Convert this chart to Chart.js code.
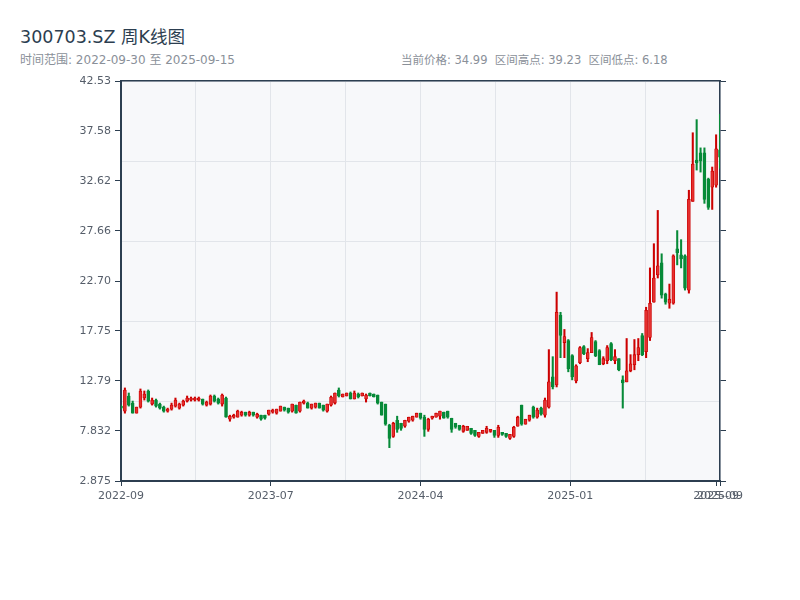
<!DOCTYPE html>
<html>
<head>
<meta charset="utf-8">
<script src="https://cdn.jsdelivr.net/npm/chart.js@4.4.1/dist/chart.umd.min.js"></script>
<style>
  body { margin: 0; background: #fff; }
  #wrap { position: relative; width: 800px; height: 600px; font-family: 'DejaVu Sans', 'Noto Sans CJK SC', sans-serif; }
  #title { position: absolute; left: 20px; top: 23px; font-size: 17.5px; color: #2c3e50; }
  .sub { position: absolute; top: 50px; font-size: 12px; color: #8a9099; white-space: pre; }
  canvas { position: absolute; left: 0; top: 0; }
</style>
</head>
<body>
<div id="wrap">
  <div id="title"></div>
  <div class="sub" id="range" style="left:20px"></div>
  <div class="sub" id="stats" style="left:401px; font-size:11.5px; top:50.5px"></div>
  <canvas id="myChart" width="800" height="600"></canvas>
</div>
<script>
// weekly K-line data
const opens = [
  10.3, 9.8, 11.3, 10.6, 9.6, 10.2, 11.1, 11.8, 10.5, 10.9,
  10.5, 10.2, 9.8, 10.0, 10.3, 10.1, 10.4, 10.8, 10.9, 10.9,
  10.9, 11.0, 10.4, 10.5, 11.3, 11.0, 10.5, 11.1, 9.0, 9.2,
  9.2, 9.4, 9.7, 9.4, 9.7, 9.2, 9.4, 9.4, 9.5, 9.7,
  9.6, 9.8, 10.2, 10.1, 9.8, 10.4, 9.8, 10.6, 10.6, 10.1,
  10.2, 10.6, 10.4, 9.8, 10.4, 10.6, 11.9, 11.2, 11.3, 11.6,
  11.0, 11.5, 11.3, 11.0, 11.6, 11.5, 11.4, 10.7, 10.5, 8.4,
  7.3, 8.9, 8.6, 8.3, 8.8, 8.9, 9.2, 9.6, 9.2, 8.0,
  9.1, 9.2, 9.3, 9.7, 9.8, 9.1, 8.6, 8.4, 7.8, 7.9,
  8.1, 7.9, 7.3, 7.6, 7.7, 7.8, 7.9, 7.4, 7.7, 7.6,
  7.1, 7.3, 8.3, 10.4, 8.5, 8.9, 10.2, 9.2, 10.1, 9.4,
  10.2, 13.2, 12.4, 19.3, 16.6, 16.8, 15.3, 12.8, 14.6, 16.2,
  15.0, 15.6, 16.7, 15.8, 14.5, 14.8, 16.5, 14.8, 15.0, 12.9,
  12.7, 13.8, 14.4, 15.4, 17.3, 15.7, 17.1, 20.6, 23.3, 24.5,
  21.4, 20.5, 20.5, 25.9, 25.3, 25.2, 21.8, 30.6, 34.7, 35.4,
  35.4, 32.8, 32.0, 32.2, 35.7
];
const closes = [
  10.1, 11.9, 10.4, 9.6, 10.2, 11.8, 11.5, 10.8, 10.9, 10.3,
  10.1, 9.8, 10.0, 10.4, 10.9, 10.5, 10.8, 11.1, 11.1, 11.1,
  11.1, 10.5, 10.7, 11.3, 10.8, 10.6, 11.4, 9.2, 9.3, 9.4,
  9.8, 9.7, 9.4, 9.7, 9.4, 9.5, 9.0, 9.1, 9.9, 9.9,
  10.0, 10.3, 9.9, 9.7, 10.5, 9.6, 10.7, 10.8, 10.1, 10.5,
  10.6, 10.1, 9.9, 10.5, 11.2, 11.6, 11.3, 11.5, 11.6, 11.0,
  11.6, 11.2, 11.6, 11.4, 11.3, 11.2, 10.6, 9.4, 8.5, 7.1,
  8.6, 8.0, 8.1, 8.9, 9.2, 9.3, 9.6, 9.1, 8.0, 9.0,
  9.3, 9.6, 9.8, 9.1, 9.2, 8.0, 8.2, 8.0, 8.3, 8.3,
  7.6, 7.4, 7.7, 7.9, 8.1, 8.0, 7.4, 8.2, 7.5, 7.3,
  7.5, 8.2, 9.2, 8.5, 9.0, 9.4, 9.2, 9.9, 9.5, 10.9,
  12.7, 12.2, 19.6, 17.3, 17.2, 14.0, 13.2, 14.3, 16.1, 15.5,
  15.6, 17.1, 15.3, 14.4, 15.0, 16.1, 14.9, 15.2, 13.9, 12.6,
  13.8, 14.5, 15.4, 16.1, 15.4, 19.8, 20.5, 23.0, 24.2, 21.3,
  20.6, 20.9, 25.2, 25.5, 24.9, 22.0, 30.8, 34.3, 34.4, 34.6,
  30.8, 30.0, 33.6, 35.8, 34.99
];
const highs = [
  10.4, 12.1, 11.6, 10.8, 10.2, 12.0, 11.8, 11.9, 11.1, 11.0,
  10.6, 10.3, 10.1, 10.6, 11.1, 10.6, 10.9, 11.3, 11.2, 11.2,
  11.2, 11.0, 10.8, 11.4, 11.4, 11.1, 11.5, 11.2, 9.4, 9.5,
  9.9, 9.8, 9.7, 9.8, 9.7, 9.6, 9.4, 9.4, 9.9, 10.0,
  10.0, 10.3, 10.2, 10.1, 10.5, 10.4, 10.7, 10.9, 10.7, 10.5,
  10.6, 10.6, 10.4, 10.5, 11.3, 11.6, 12.1, 11.5, 11.6, 11.7,
  11.8, 11.6, 11.6, 11.5, 11.6, 11.5, 11.4, 10.7, 10.5, 8.5,
  8.7, 9.3, 8.6, 8.9, 9.2, 9.3, 9.6, 9.6, 9.4, 9.1,
  9.3, 9.6, 9.8, 9.7, 9.8, 9.1, 8.6, 8.4, 8.4, 8.3,
  8.1, 7.9, 7.7, 7.9, 8.3, 8.0, 7.9, 8.4, 7.7, 7.6,
  7.5, 8.3, 9.3, 10.4, 9.0, 9.4, 10.3, 10.1, 10.2, 11.1,
  15.9, 15.2, 21.6, 19.6, 17.9, 16.9, 15.4, 14.4, 16.2, 16.3,
  16.0, 17.6, 16.8, 15.9, 15.2, 16.3, 16.6, 15.9, 15.0, 13.3,
  17.0, 15.4, 16.9, 17.0, 17.5, 20.1, 24.0, 26.4, 29.7, 25.4,
  21.5, 22.4, 25.3, 27.7, 26.8, 25.3, 31.7, 37.4, 38.7, 35.9,
  35.9, 32.9, 34.0, 37.2, 39.23
];
const lows = [
  10.0, 9.6, 10.3, 9.6, 9.6, 10.1, 10.9, 10.7, 10.4, 10.2,
  10.0, 9.7, 9.7, 9.9, 10.2, 10.0, 10.3, 10.7, 10.8, 10.8,
  10.8, 10.4, 10.3, 10.4, 10.7, 10.5, 10.3, 9.2, 8.8, 9.1,
  9.2, 9.3, 9.3, 9.3, 9.3, 9.1, 8.9, 9.0, 9.4, 9.6,
  9.5, 9.8, 9.8, 9.6, 9.7, 9.6, 9.7, 10.5, 10.1, 10.0,
  10.1, 10.1, 9.8, 9.7, 10.3, 10.5, 11.2, 11.2, 11.3, 11.0,
  11.0, 11.1, 11.3, 10.7, 11.3, 11.2, 10.5, 9.4, 8.4, 6.18,
  7.2, 7.7, 7.9, 8.2, 8.7, 8.8, 9.2, 9.0, 7.3, 7.8,
  9.0, 9.2, 9.0, 9.1, 9.1, 7.7, 8.1, 7.9, 7.7, 7.9,
  7.5, 7.3, 7.2, 7.6, 7.6, 7.7, 7.2, 7.2, 7.4, 7.2,
  7.0, 7.2, 8.3, 8.4, 8.5, 8.8, 9.1, 9.1, 9.4, 9.2,
  10.1, 12.0, 12.2, 15.1, 15.1, 13.7, 12.9, 12.6, 14.5, 15.4,
  14.7, 15.6, 15.2, 14.4, 14.4, 14.5, 14.8, 14.5, 13.8, 10.1,
  12.7, 13.7, 13.9, 14.8, 15.3, 15.1, 16.8, 20.6, 23.0, 21.0,
  20.4, 20.0, 20.4, 24.3, 24.0, 21.8, 21.5, 30.6, 33.7, 33.5,
  30.4, 29.8, 29.8, 32.0, 33.9
];

// axis ticks
const yTickValues = [2.875, 7.832, 12.79, 17.75, 22.70, 27.66, 32.62, 37.58, 42.53];
const yTickLabels = ['2.875', '7.832', '12.79', '17.75', '22.70', '27.66', '32.62', '37.58', '42.53'];
const xTickValues = [0, 38.5, 77, 115.5, 153, 154];
const xTickLabels = ['2022-09', '2023-07', '2024-04', '2025-01', '2025-09', '2025-09'];

const titleText = '300703.SZ 周K线图';
const rangeText = '时间范围: 2022-09-30 至 2025-09-15';
const statsText = '当前价格: 34.99  区间高点: 39.23  区间低点: 6.18';

document.getElementById('title').textContent = titleText;
document.getElementById('range').textContent = rangeText;
document.getElementById('stats').textContent = statsText;

const UP_FILL = '#e5302f';
const UP_LINE = '#cc0000';
const DOWN = '#078a38';
const AXIS = '#2c3e50';
const GRID = '#e2e5ea';
const FONT = "'DejaVu Sans', 'Noto Sans CJK SC', sans-serif";

const isUp = opens.map((o, i) => closes[i] >= o);

const plotBg = {
  id: 'plotBg',
  beforeDraw(chart) {
    const { ctx, chartArea: a } = chart;
    ctx.save();
    ctx.fillStyle = '#f7f8fa';
    ctx.fillRect(a.left, a.top, a.right - a.left, a.bottom - a.top);
    ctx.restore();
  },
};

const setTicks = (values) => (scale) => {
  scale.ticks = values.map((v) => ({ value: v }));
};

const ctx = document.getElementById('myChart').getContext('2d');
const myChart = new Chart(ctx, {
  type: 'bar',
  data: {
    datasets: [
      {
        // wick
        data: lows.map((l, i) => ({ x: i, y: [l, highs[i]] })),
        backgroundColor: isUp.map((u) => (u ? UP_LINE : DOWN)),
        barThickness: 1.4,
        grouped: false,
        order: 2,
      },
      {
        // body
        data: opens.map((o, i) => ({ x: i, y: [o, closes[i]] })),
        backgroundColor: isUp.map((u) => (u ? UP_FILL : DOWN)),
        borderColor: isUp.map((u) => (u ? UP_LINE : DOWN)),
        borderWidth: 0.8,
        borderSkipped: false,
        barThickness: 3,
        minBarLength: 1,
        grouped: false,
        order: 1,
      },
    ],
  },
  options: {
    responsive: false,
    animation: false,
    devicePixelRatio: 1,
    layout: { padding: { top: 81, left: 0, right: 0, bottom: 0 } },
    plugins: {
      legend: { display: false },
      tooltip: { enabled: false },
    },
    scales: {
      x: {
        type: 'linear',
        position: 'bottom',
        min: 0,
        max: 154,
        offset: false,
        afterBuildTicks: setTicks(xTickValues),
        afterFit: (s) => { s.height = 119; },
        ticks: {
          autoSkip: false,
          maxRotation: 0,
          padding: 4,
          color: '#555d69',
          font: { size: 11, family: FONT },
          callback: (v, i) => xTickLabels[i],
        },
        grid: { drawOnChartArea: false, offset: false, tickLength: 5, color: AXIS },
        border: { color: AXIS, width: 2 },
      },
      xGrid: {
        type: 'linear',
        position: 'bottom',
        min: 0,
        max: 8,
        offset: false,
        afterFit: (s) => { s.height = 0; },
        ticks: { display: false, stepSize: 1 },
        grid: { color: GRID, drawTicks: false, offset: false },
        border: { display: false },
      },
      xTop: {
        type: 'linear',
        position: 'top',
        min: 0,
        max: 1,
        offset: false,
        afterFit: (s) => { s.height = 0; },
        ticks: { display: false },
        grid: { display: false, offset: false },
        border: { color: AXIS, width: 1.5 },
      },
      y: {
        type: 'linear',
        position: 'left',
        min: 2.875,
        max: 42.53,
        afterBuildTicks: setTicks(yTickValues),
        afterFit: (s) => { s.width = 121; },
        ticks: {
          padding: 4,
          color: '#555d69',
          font: { size: 11, family: FONT },
          callback: (v, i) => yTickLabels[i],
        },
        grid: { drawOnChartArea: false, tickLength: 6, color: AXIS },
        border: { color: AXIS, width: 2 },
      },
      yGrid: {
        type: 'linear',
        position: 'left',
        min: 0,
        max: 5,
        afterFit: (s) => { s.width = 0; },
        ticks: { display: false, stepSize: 1 },
        grid: { color: GRID, drawTicks: false },
        border: { display: false },
      },
      yR: {
        type: 'linear',
        position: 'right',
        min: 2.875,
        max: 42.53,
        afterBuildTicks: setTicks(yTickValues),
        afterFit: (s) => { s.width = 80; },
        ticks: { display: false },
        grid: { drawOnChartArea: false, tickLength: 6, color: AXIS },
        border: { color: AXIS, width: 1.5 },
      },
    },
  },
  plugins: [plotBg],
});
</script>
</body>
</html>
